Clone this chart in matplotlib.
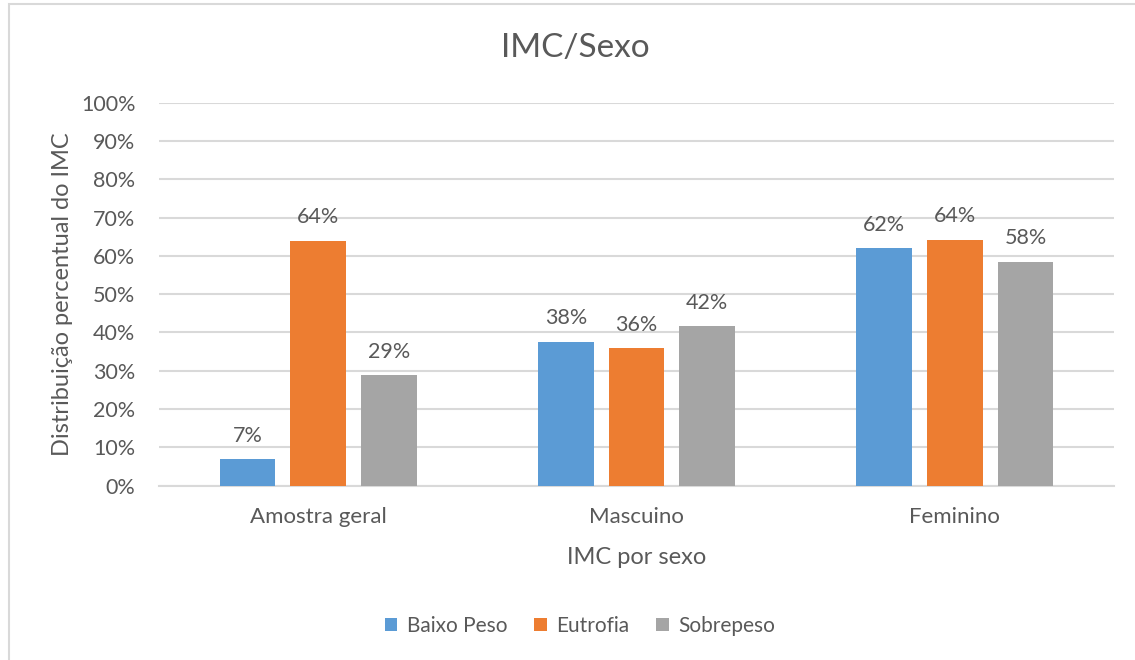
import matplotlib
matplotlib.use("Agg")
import matplotlib.pyplot as plt
import numpy as np
from matplotlib.patches import Rectangle
from matplotlib.ticker import PercentFormatter

plt.rcParams['font.family'] = ['Lato', 'DejaVu Sans']

# Data
categories = ["Amostra geral", "Mascuino", "Feminino"]
series = ["Baixo Peso", "Eutrofia", "Sobrepeso"]
baixo_peso = [0.07, 0.376, 0.62]
eutrofia = [0.64, 0.359, 0.642]
sobrepeso = [0.288, 0.416, 0.585]
labels = [["7%", "38%", "62%"], ["64%", "36%", "64%"], ["29%", "42%", "58%"]]
colors = ["#5B9BD5", "#ED7D31", "#A5A5A5"]

text_color = "#595959"
grid_color = "#D9D9D9"

fig = plt.figure(figsize=(11.35, 6.6), dpi=100)
ax = fig.add_axes([159 / 1135, 1 - 485.7 / 660, 955 / 1135, 383 / 660])

# chart frame
fig.patches.append(Rectangle((8.7 / 1135, -0.1), 1.2, 1 - 3.5 / 660 + 0.1,
                             transform=fig.transFigure, fill=False,
                             edgecolor=grid_color, linewidth=1.5))

x = np.arange(len(categories))
width = 0.174
step = 0.222
values = [baixo_peso, eutrofia, sobrepeso]

for i, (name, vals) in enumerate(zip(series, values)):
    pos = x + (i - 1) * step
    ax.bar(pos, vals, width, color=colors[i], label=name, zorder=3)
    for px, v, lab in zip(pos, vals, labels[i]):
        ax.annotate(lab, (px, v), xytext=(0, 12.5), textcoords="offset points",
                    ha="center", va="baseline", fontsize=15.5, color=text_color)

ax.set_xlim(-0.5, 2.5)
ax.set_ylim(0, 1)
ax.set_yticks(np.arange(0, 1.01, 0.1))
ax.yaxis.set_major_formatter(PercentFormatter(1.0, decimals=0))
ax.set_xticks(x)
ax.set_xticklabels(categories)
ax.tick_params(axis="both", length=0, labelcolor=text_color)
ax.tick_params(axis="x", pad=15, labelsize=16)
ax.tick_params(axis="y", pad=17, labelsize=15.5)
ax.grid(axis="y", color=grid_color, linewidth=1.5, zorder=0)
for s in ["top", "right", "left"]:
    ax.spines[s].set_visible(False)
ax.spines["bottom"].set_color(grid_color)
ax.spines["bottom"].set_linewidth(1.5)

ax.set_xlabel("IMC por sexo", fontsize=17, color=text_color, labelpad=15)
ax.set_ylabel("Distribuição percentual do IMC", fontsize=17, color=text_color, labelpad=6)

fig.text(575 / 1135, 1 - 48 / 660, "IMC/Sexo", ha="center", va="center",
         fontsize=24, color=text_color)

fig.legend(loc="center", bbox_to_anchor=(580 / 1135, 1 - 626 / 660), ncol=3,
           frameon=False, fontsize=15, labelcolor=text_color,
           handlelength=0.6, handleheight=0.6, handletextpad=0.45,
           columnspacing=1.3)

fig.savefig("out.png", dpi=100)
